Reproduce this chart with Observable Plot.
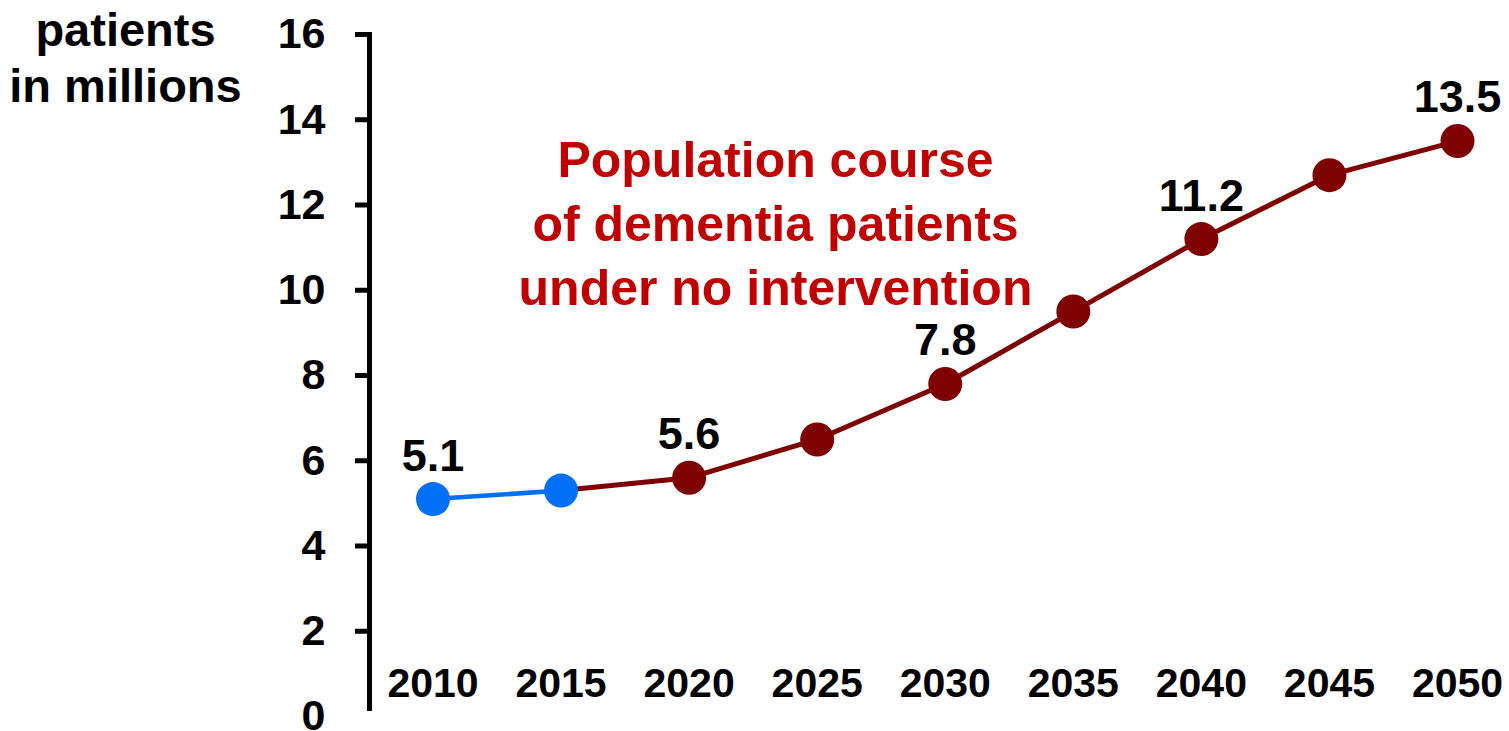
<!DOCTYPE html>
<html>
<head>
<meta charset="utf-8">
<script src="https://cdn.jsdelivr.net/npm/d3@7"></script>
<script src="https://cdn.jsdelivr.net/npm/@observablehq/plot@0.6"></script>
<style>
  html, body { margin: 0; padding: 0; background: #fff; }
  #chart { width: 1509px; height: 731px; }
  svg { font-family: "Liberation Sans", Arial, sans-serif; font-weight: bold; }
</style>
</head>
<body>
<div id="chart"></div>
<script>
const years = [2010, 2015, 2020, 2025, 2030, 2035, 2040, 2045, 2050];
const patients = [5.1, 5.3, 5.6, 6.5, 7.8, 9.5, 11.2, 12.7, 13.5];
const phase = ["observed", "observed", "projected", "projected", "projected", "projected", "projected", "projected", "projected"];
const labelledYears = [2010, 2020, 2030, 2040, 2050];
const yTicks = [2, 4, 6, 8, 10, 12, 14, 16];
const titleText = "Population course\nof dementia patients\nunder no intervention";
const yLabelText = "patients\nin millions";

const rows = years.map((year, i) => ({ year, value: patients[i], phase: phase[i] }));
const lastObserved = rows.filter(d => d.phase === "observed").slice(-1)[0];
const observedLine = rows.filter(d => d.phase === "observed");
const projectedLine = [lastObserved, ...rows.filter(d => d.phase === "projected")];
const labelled = rows.filter(d => labelledYears.includes(d.year));

const BLUE = "#0070f6";
const DARKRED = "#7f0000";
const RED = "#c00000";

const chart = Plot.plot({
  width: 1509,
  height: 731,
  marginLeft: 369,
  marginRight: 0,
  marginTop: 34,
  marginBottom: 15,
  x: { type: "linear", domain: [2010, 2050], insetLeft: 63.5, insetRight: 52, axis: null },
  y: { domain: [0, 16], axis: null },
  marks: [
    Plot.frame({ anchor: "left", stroke: "#000", strokeWidth: 5, insetBottom: 8 }),
    Plot.axisY({ ticks: yTicks, tickSize: 14, tickPadding: 30, strokeWidth: 5, fontSize: 43, fill: "#000", label: null, tickFormat: d => String(d) }),
    Plot.axisY({ ticks: [0], tickSize: 0, tickPadding: 44, fontSize: 43, fill: "#000", label: null, tickFormat: d => String(d) }),
    Plot.text(years, { x: d => d, frameAnchor: "bottom", dy: -20, text: d => String(d), fontSize: 41, fill: "#000" }),
    Plot.line(projectedLine, { x: "year", y: "value", stroke: DARKRED, strokeWidth: 5 }),
    Plot.line(observedLine, { x: "year", y: "value", stroke: BLUE, strokeWidth: 4.5 }),
    Plot.dot(rows, { x: "year", y: "value", r: 17, fill: d => d.phase === "observed" ? BLUE : DARKRED, stroke: "none" }),
    Plot.text(labelled, { x: "year", y: "value", text: d => String(d.value), dy: -43, fontSize: 45, fill: "#000" }),
    Plot.text([titleText], { frameAnchor: "top-left", dx: 406, dy: 97, lineAnchor: "top", lineHeight: 1.28, text: d => d, textAnchor: "middle", fontSize: 50, fill: RED }),
    Plot.text([yLabelText], { frameAnchor: "top-left", dx: -244, dy: -29, lineAnchor: "top", lineHeight: 1.2, text: d => d, textAnchor: "middle", fontSize: 47, fill: "#000" })
  ]
});
document.getElementById("chart").appendChild(chart);
</script>
</body>
</html>
